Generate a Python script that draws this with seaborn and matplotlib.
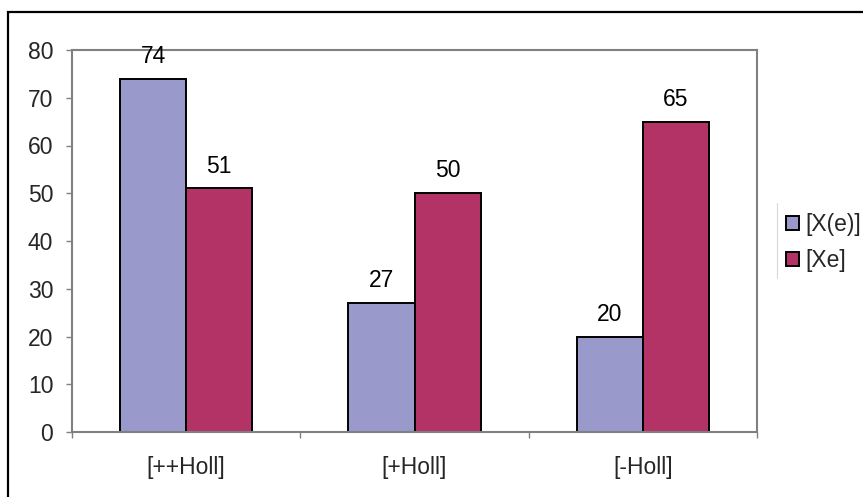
import matplotlib
matplotlib.use("Agg")
import matplotlib.pyplot as plt
from matplotlib.lines import Line2D
from matplotlib.patches import Rectangle
import seaborn as sns
import pandas as pd

# Chart data
categories = ["[++Holl]", "[+Holl]", "[-Holl]"]
series_names = ["[X(e)]", "[Xe]"]
x_e_values = [74, 27, 20]
xe_values = [51, 50, 65]
y_ticks = [0, 10, 20, 30, 40, 50, 60, 70, 80]

colors = ["#9999CC", "#B33366"]

df = pd.DataFrame({
    "category": categories * 2,
    "series": [series_names[0]] * 3 + [series_names[1]] * 3,
    "value": x_e_values + xe_values,
})

sns.set_theme(style="white")
plt.rcParams["font.family"] = ["Liberation Sans", "DejaVu Sans"]

FS = 16.5
W, H = 863, 497
fig = plt.figure(figsize=(W / 100, H / 100), dpi=100)
ax = fig.add_axes([72 / W, 1 - 432 / H, (757 - 72) / W, (432 - 50) / H])

sns.barplot(data=df, x="category", y="value", hue="series", order=categories,
            hue_order=series_names, palette=colors, saturation=1, width=0.58,
            edgecolor="black", linewidth=1.4, ax=ax)

# value labels above each bar
for container in ax.containers:
    for bar in container:
        h = bar.get_height()
        ax.annotate(f"{h:g}", (bar.get_x() + bar.get_width() / 2, h),
                    xytext=(0, 11.5), textcoords="offset points",
                    ha="center", va="baseline", fontsize=FS, color="black",
                    annotation_clip=False)

ax.set_xlim(-0.5, 2.5)
ax.set_ylim(0, 80)
ax.set_yticks(y_ticks)
ax.set_xlabel("")
ax.set_ylabel("")

# category boundary ticks on the x axis
ax.set_xticks([-0.5, 0.5, 1.5, 2.5], minor=True)
ax.tick_params(axis="x", which="major", length=0, pad=17, labelsize=FS)
ax.tick_params(axis="x", which="minor", length=4.5, width=1, color="#808080",
               direction="out", bottom=True)
ax.tick_params(axis="y", which="major", length=4.5, width=1, color="#808080",
               direction="out", left=True, pad=9, labelsize=FS)

for side in ["left", "right", "top", "bottom"]:
    ax.spines[side].set_visible(True)
    ax.spines[side].set_color("#808080")
    ax.spines[side].set_linewidth(1.5)

# legend at the right
handles, labels = ax.get_legend_handles_labels()
ax.get_legend().remove()
fig.legend(handles, labels, loc="center left",
           bbox_to_anchor=(786 / W, 1 - 242.5 / H), bbox_transform=fig.transFigure,
           frameon=False, fontsize=FS, handlelength=0.55, handleheight=0.55,
           handletextpad=0.3, labelspacing=0.55, borderpad=0, borderaxespad=0)
fig.add_artist(Line2D([777 / W, 777 / W], [1 - 203 / H, 1 - 278 / H],
                      transform=fig.transFigure, color="#d8d8d8", linewidth=0.8))

# outer chart border
fig.add_artist(Rectangle((8 / W, -0.1), 1.2, 1.1 - 12 / H,
                         transform=fig.transFigure, fill=False,
                         edgecolor="black", linewidth=1.6))

fig.savefig("out.png", dpi=100)
